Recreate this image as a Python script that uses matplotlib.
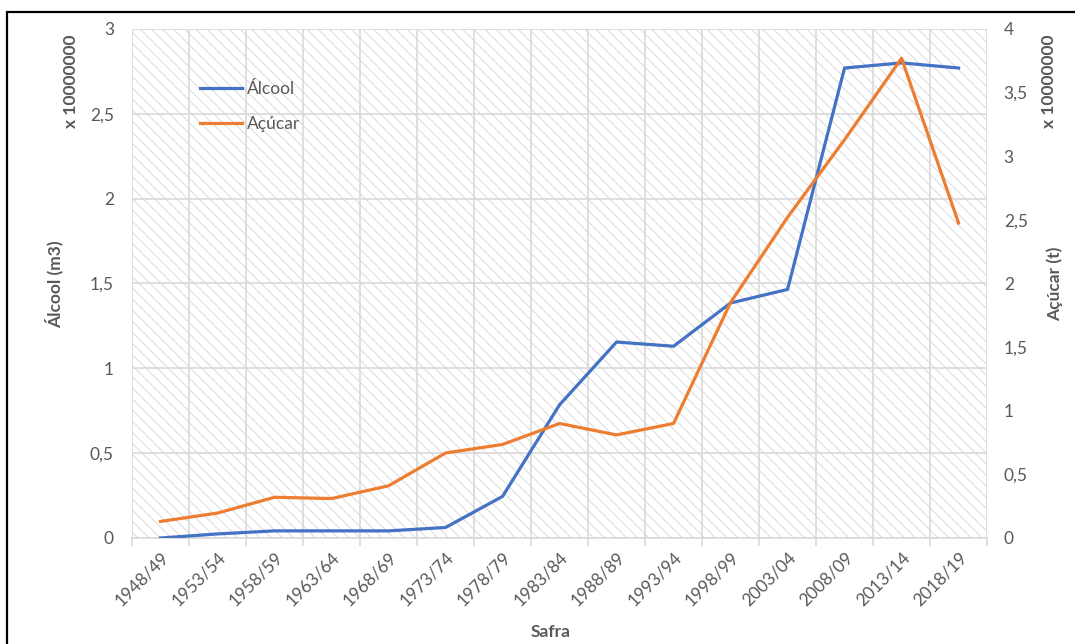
import matplotlib.pyplot as plt
from matplotlib.patches import Rectangle
from matplotlib.ticker import FuncFormatter, MultipleLocator

plt.rcParams['font.family'] = ['Lato', 'DejaVu Sans']
plt.rcParams['hatch.color'] = '#d2d2d2'
plt.rcParams['hatch.linewidth'] = 0.55

# Production by harvest season (values in units of 10^7)
safras = ['1948/49', '1953/54', '1958/59', '1963/64', '1968/69', '1973/74',
          '1978/79', '1983/84', '1988/89', '1993/94', '1998/99', '2003/04',
          '2008/09', '2013/14', '2018/19']
alcool = [0.0, 0.024, 0.042, 0.042, 0.042, 0.062, 0.245, 0.785, 1.155,
          1.13, 1.385, 1.465, 2.77, 2.80, 2.77]
acucar = [0.13, 0.196, 0.32, 0.31, 0.41, 0.668, 0.735, 0.90, 0.81, 0.90,
          1.85, 2.52, 3.13, 3.77, 2.475]

grey = '#595959'
grid_c = '#d9d9d9'
blue = '#4472C4'
orange = '#ED7D31'
fs = 12.5

fig = plt.figure(figsize=(10.75, 6.44), dpi=100)
ax = fig.add_axes([0.1228, 0.1646, 0.7954, 0.7904])
ax2 = ax.twinx()

x = list(range(len(safras)))
ax.set_xlim(-0.5, len(safras) - 0.5)
ax.set_ylim(0, 3)
ax2.set_ylim(0, 4)

# hatched plot area
ax.add_patch(Rectangle((0, 0), 1, 1, transform=ax.transAxes, facecolor='white',
                       edgecolor=None, hatch='\\\\\\', lw=0, zorder=0))

ax.yaxis.set_major_locator(MultipleLocator(0.5))
ax2.yaxis.set_major_locator(MultipleLocator(0.5))
fmt = FuncFormatter(lambda v, p: f'{v:g}'.replace('.', ','))
ax.yaxis.set_major_formatter(fmt)
ax2.yaxis.set_major_formatter(fmt)

ax.set_xticks(x)
ax.set_xticklabels(safras, rotation=45, ha='right', rotation_mode='anchor')
ax.set_xticks([i - 0.5 for i in range(len(safras) + 1)], minor=True)
ax.grid(True, which='major', axis='y', color=grid_c, lw=1.2, zorder=1)
ax.grid(True, which='minor', axis='x', color=grid_c, lw=1.2, zorder=1)
ax.set_axisbelow(True)

ax.tick_params(axis='x', which='major', length=0, pad=8, labelsize=fs, labelcolor=grey)
ax.tick_params(axis='x', which='minor', length=6, width=1.2, color=grid_c, direction='out')
ax.tick_params(axis='y', length=0, pad=13, labelsize=fs, labelcolor=grey)
ax2.tick_params(axis='y', length=0, pad=12, labelsize=fs, labelcolor=grey)

for a in (ax, ax2):
    for s in a.spines.values():
        s.set_visible(False)
ax.spines['bottom'].set_visible(True)
ax.spines['bottom'].set_color(grid_c)
ax.spines['bottom'].set_linewidth(1.2)

l1, = ax.plot(x, alcool, color=blue, lw=2.3, zorder=3, label='Álcool')
l2, = ax2.plot(x, acucar, color=orange, lw=2.3, zorder=3, label='Açúcar')

ax2.legend([l1, l2], ['Álcool', 'Açúcar'], loc='center left',
           bbox_to_anchor=(0.0795, 0.847), frameon=False, borderpad=0,
           borderaxespad=0, handlelength=2.4, handletextpad=0.3,
           labelspacing=1.1, fontsize=fs, labelcolor=grey)

fig.text(551 / 1075, 1 - 632 / 644, 'Safra', ha='center', va='center',
         fontsize=fs, fontweight='bold', color=grey)
fig.text(54 / 1075, 1 - 284 / 644, 'Álcool (m3)', rotation=90, ha='center',
         va='center', fontsize=fs, fontweight='bold', color=grey)
fig.text(71 / 1075, 1 - 81 / 644, 'x 10000000', rotation=90, ha='center',
         va='center', fontsize=fs, fontweight='bold', color=grey)
fig.text(1055 / 1075, 1 - 284 / 644, 'Açúcar (t)', rotation=90, ha='center',
         va='center', fontsize=fs, fontweight='bold', color=grey)
fig.text(1049 / 1075, 1 - 81 / 644, 'x 10000000', rotation=90, ha='center',
         va='center', fontsize=fs, fontweight='bold', color=grey)

# outer frame
fig.patches.append(Rectangle((7 / 1075, -0.1), 2, 1.1 - 12 / 644,
                             transform=fig.transFigure, fill=False,
                             edgecolor='black', lw=1.6))

fig.savefig('out.png', dpi=100)
